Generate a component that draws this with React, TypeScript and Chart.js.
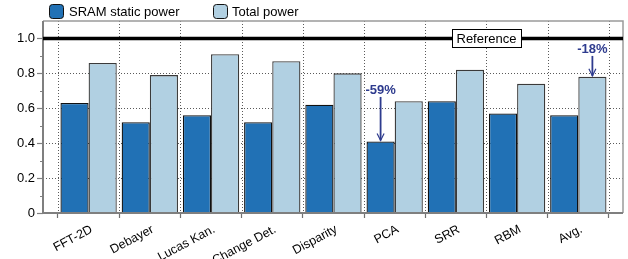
import React, { useEffect, useRef } from 'react';
import { Chart, registerables } from 'chart.js';

Chart.register(...registerables);

const categories = ['FFT-2D', 'Debayer', 'Lucas Kan.', 'Change Det.', 'Disparity', 'PCA', 'SRR', 'RBM', 'Avg.'];
const sramStatic = [0.63, 0.52, 0.56, 0.52, 0.62, 0.41, 0.64, 0.57, 0.56];
const totalPower = [0.86, 0.79, 0.91, 0.87, 0.8, 0.64, 0.82, 0.74, 0.78];
const seriesNames = ['SRAM static power', 'Total power'];
const yTicks = [0, 0.2, 0.4, 0.6, 0.8, 1.0];
const yMinorTicks = [0.1, 0.3, 0.5, 0.7, 0.9];
const referenceValue = 1.0;
const referenceLabel = 'Reference';
const referenceLabelAt = 6.5;
const annotationLabels = ['-59%', '-18%'];
const annotationCategory = [5, 8];
const annotationSeries = [0, 1];
const annotationTextValue = [0.705, 0.94];

const FONT = "'Liberation Sans', Arial, sans-serif";
const DARK = '#2171b5';
const LIGHT = '#b1d0e2';
const NAVY = '#2e3b8e';
const X_MIN = -0.745;
const X_MAX = 8.73;
const LABEL_SHIFT = 0.05;

const overlay = {
  id: 'overlay',
  beforeDatasetsDraw(chart: any) {
    const { ctx, chartArea: a, scales } = chart;
    const xg = scales.xg;
    const y = scales.y;
    ctx.save();
    ctx.strokeStyle = '#5a5a5a';
    ctx.lineWidth = 1;
    ctx.setLineDash([1, 2]);
    xg.ticks.forEach((t: any) => {
      const px = Math.round(xg.getPixelForValue(t.value)) + 0.5;
      ctx.beginPath();
      ctx.moveTo(px, a.top);
      ctx.lineTo(px, a.bottom);
      ctx.stroke();
    });
    y.ticks.forEach((t: any) => {
      if (t.value < 0.05 || t.value > 0.95) return;
      const py = Math.round(y.getPixelForValue(t.value)) + 0.5;
      ctx.beginPath();
      ctx.moveTo(a.left, py);
      ctx.lineTo(a.right, py);
      ctx.stroke();
    });
    ctx.restore();
  },
  afterDatasetsDraw(chart: any) {
    const { ctx, chartArea: a, scales } = chart;
    const xg = scales.xg;
    const y = scales.y;
    ctx.save();
    ctx.strokeStyle = '#808080';
    ctx.lineWidth = 1;
    yMinorTicks.forEach((v) => {
      const py = Math.round(y.getPixelForValue(v)) + 0.5;
      ctx.beginPath();
      ctx.moveTo(a.left - 3, py);
      ctx.lineTo(a.left, py);
      ctx.stroke();
    });
    ctx.strokeStyle = '#9a9a9a';
    ctx.lineWidth = 1.5;
    ctx.beginPath();
    ctx.moveTo(a.left, a.top);
    ctx.lineTo(a.right, a.top);
    ctx.lineTo(a.right, a.bottom);
    ctx.stroke();
    ctx.strokeStyle = '#7f7f7f';
    ctx.lineWidth = 2;
    ctx.beginPath();
    ctx.moveTo(a.left, a.top);
    ctx.lineTo(a.left, a.bottom);
    ctx.lineTo(a.right, a.bottom);
    ctx.stroke();
    const ry = y.getPixelForValue(referenceValue);
    ctx.strokeStyle = '#000';
    ctx.lineWidth = 3.5;
    ctx.beginPath();
    ctx.moveTo(a.left, ry);
    ctx.lineTo(a.right, ry);
    ctx.stroke();
    ctx.font = `13px ${FONT}`;
    const tw = ctx.measureText(referenceLabel).width;
    const bx = xg.getPixelForValue(referenceLabelAt);
    const bw = tw + 9;
    const bh = 18;
    ctx.fillStyle = '#fff';
    ctx.fillRect(bx - bw / 2, ry - bh / 2, bw, bh);
    ctx.strokeStyle = '#000';
    ctx.lineWidth = 1;
    ctx.strokeRect(Math.round(bx - bw / 2) + 0.5, Math.round(ry - bh / 2) + 0.5, Math.round(bw), bh);
    ctx.fillStyle = '#000';
    ctx.textAlign = 'center';
    ctx.textBaseline = 'middle';
    ctx.fillText(referenceLabel, bx, ry + 0.5);
    annotationLabels.forEach((lab, k) => {
      const bar = chart.getDatasetMeta(annotationSeries[k]).data[annotationCategory[k]];
      const px = bar.x;
      const ty = y.getPixelForValue(annotationTextValue[k]);
      ctx.font = `bold 13px ${FONT}`;
      ctx.fillStyle = NAVY;
      ctx.textAlign = 'center';
      ctx.textBaseline = 'middle';
      ctx.fillText(lab, px, ty);
      const y0 = ty + 7;
      const y1 = bar.y - 1;
      ctx.strokeStyle = NAVY;
      ctx.lineWidth = 1.8;
      ctx.beginPath();
      ctx.moveTo(px, y0);
      ctx.lineTo(px, y1);
      ctx.stroke();
      ctx.lineWidth = 1.2;
      ctx.beginPath();
      ctx.moveTo(px - 3.5, y1 - 7);
      ctx.lineTo(px, y1);
      ctx.lineTo(px + 3.5, y1 - 7);
      ctx.stroke();
    });
    ctx.restore();
  },
  afterDraw(chart: any) {
    const { ctx } = chart;
    ctx.save();
    const items = [
      { color: DARK, bx: 49, tx: 69, label: seriesNames[0] },
      { color: LIGHT, bx: 213, tx: 232, label: seriesNames[1] },
    ];
    items.forEach((it) => {
      ctx.beginPath();
      (ctx as any).roundRect(it.bx + 0.5, 4.5, 14, 14, 3);
      ctx.fillStyle = it.color;
      ctx.fill();
      ctx.strokeStyle = '#111';
      ctx.lineWidth = 1;
      ctx.stroke();
      ctx.font = `13px ${FONT}`;
      ctx.fillStyle = '#000';
      ctx.textAlign = 'left';
      ctx.textBaseline = 'middle';
      ctx.fillText(it.label, it.tx, 12);
    });
    ctx.restore();
  },
};

export default function App() {
  const ref = useRef<HTMLCanvasElement>(null);
  useEffect(() => {
    if (!ref.current) return;
    const chart = new Chart(ref.current, {
      type: 'bar',
      data: {
        datasets: [
          {
            label: seriesNames[0],
            data: sramStatic.map((v, i) => ({ x: i, y: v })),
            backgroundColor: DARK,
            borderColor: '#111',
            borderWidth: 1.3,
            categoryPercentage: 0.92,
            barPercentage: 1,
            xAxisID: 'x',
            yAxisID: 'y',
          },
          {
            label: seriesNames[1],
            data: totalPower.map((v, i) => ({ x: i, y: v })),
            backgroundColor: LIGHT,
            borderColor: '#3a3a3a',
            borderWidth: 1.3,
            categoryPercentage: 0.92,
            barPercentage: 1,
            xAxisID: 'x',
            yAxisID: 'y',
          },
        ],
      },
      options: {
        animation: false,
        responsive: false,
        layout: { padding: { top: 21, right: 5, left: 0, bottom: 0 } },
        plugins: { legend: { display: false }, tooltip: { enabled: false } },
        scales: {
          xg: {
            type: 'linear',
            position: 'bottom',
            weight: 0,
            min: X_MIN,
            max: X_MAX,
            offset: false,
            afterBuildTicks: (s: any) => {
              s.ticks = [...categories.map((_, i) => ({ value: i - 0.5 })), { value: categories.length - 0.5 }];
            },
            afterFit: (s: any) => {
              s.height = 0;
            },
            ticks: { display: false },
            border: { display: false },
            grid: {
              offset: false,
              drawOnChartArea: false,
              color: '#707070',
              tickColor: '#707070',
              tickLength: 5,
              tickWidth: 1.2,
              drawTicks: true,
            },
          },
          x: {
            type: 'linear',
            position: 'bottom',
            weight: 1,
            min: X_MIN,
            max: X_MAX,
            offset: false,
            afterBuildTicks: (s: any) => {
              s.ticks = categories.map((_, i) => ({ value: i + LABEL_SHIFT }));
            },
            afterFit: (s: any) => {
              s.height = 46;
            },
            ticks: {
              autoSkip: false,
              minRotation: 28,
              maxRotation: 28,
              padding: 4,
              color: '#000',
              font: { family: FONT, size: 12.5 },
              callback: (v: any) => categories[Math.round(Number(v))] ?? '',
            },
            border: { display: false },
            grid: { display: false, offset: false, drawTicks: true, tickLength: 5 },
          },
          y: {
            type: 'linear',
            min: 0,
            max: 1.1,
            afterBuildTicks: (s: any) => {
              s.ticks = yTicks.map((v) => ({ value: v }));
            },
            afterFit: (s: any) => {
              s.width = 43;
            },
            ticks: {
              padding: 2,
              color: '#000',
              font: { family: FONT, size: 13 },
              callback: (v: any) => (Number(v) === 0 ? '0' : Number(v).toFixed(1)),
            },
            border: { display: false },
            grid: {
              drawOnChartArea: false,
              color: '#808080',
              tickColor: '#808080',
              tickLength: 6,
              tickWidth: 1.2,
            },
          },
        },
      } as any,
      plugins: [overlay],
    });
    return () => chart.destroy();
  }, []);
  return (
    <div style={{ position: 'absolute', left: 0, top: 0, width: 628, height: 259, background: '#fff' }}>
      <canvas ref={ref} width={628} height={259} style={{ display: 'block' }} />
    </div>
  );
}
